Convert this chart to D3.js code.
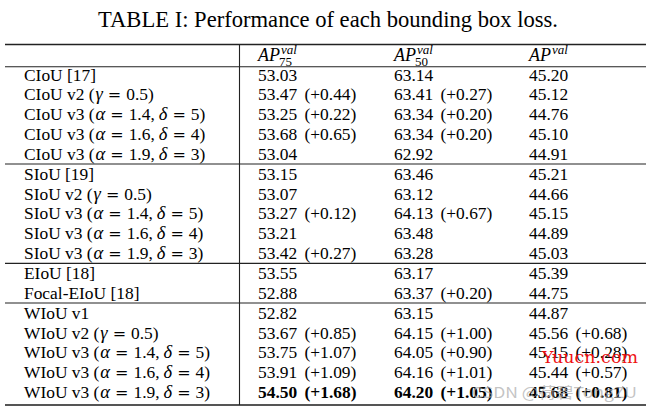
<!DOCTYPE html>
<html>
<head>
<meta charset="utf-8">
<script src="https://cdn.jsdelivr.net/npm/d3@7"></script>
<style>
  html, body { margin: 0; padding: 0; background: #fff; }
  svg { display: block; }
  text { font-family: "Liberation Serif", "Times New Roman", serif; fill: #000; }
</style>
</head>
<body>
<div id="chart"></div>
<script>
// ---------------- data ----------------
const title = "TABLE I: Performance of each bounding box loss.";
const columns = ["75", "50", ""];            // subscripts of AP^val headers
const methods = ["CIoU [17]", "CIoU v2", "CIoU v3", "CIoU v3", "CIoU v3",
                 "SIoU [19]", "SIoU v2", "SIoU v3", "SIoU v3", "SIoU v3",
                 "EIoU [18]", "Focal-EIoU [18]",
                 "WIoU v1", "WIoU v2", "WIoU v3", "WIoU v3", "WIoU v3"];
const groups = ["CIoU", "CIoU", "CIoU", "CIoU", "CIoU",
                "SIoU", "SIoU", "SIoU", "SIoU", "SIoU",
                "EIoU", "EIoU",
                "WIoU", "WIoU", "WIoU", "WIoU", "WIoU"];
const gammaParam = [null, "0.5", null, null, null, null, "0.5", null, null, null, null, null, null, "0.5", null, null, null];
const alphaParam = [null, null, "1.4", "1.6", "1.9", null, null, "1.4", "1.6", "1.9", null, null, null, null, "1.4", "1.6", "1.9"];
const deltaParam = [null, null, "5", "4", "3", null, null, "5", "4", "3", null, null, null, null, "5", "4", "3"];
const ap75     = [53.03, 53.47, 53.25, 53.68, 53.04, 53.15, 53.07, 53.27, 53.21, 53.42, 53.55, 52.88, 52.82, 53.67, 53.75, 53.91, 54.50];
const ap75Gain = [null, 0.44, 0.22, 0.65, null, null, null, 0.12, null, 0.27, null, null, null, 0.85, 1.07, 1.09, 1.68];
const ap50     = [63.14, 63.41, 63.34, 63.34, 62.92, 63.46, 63.12, 64.13, 63.48, 63.28, 63.17, 63.37, 63.15, 64.15, 64.05, 64.16, 64.20];
const ap50Gain = [null, 0.27, 0.20, 0.20, null, null, null, 0.67, null, null, null, 0.20, null, 1.00, 0.90, 1.01, 1.05];
const apAll     = [45.20, 45.12, 44.76, 45.10, 44.91, 45.21, 44.66, 45.15, 44.89, 45.03, 45.39, 44.75, 44.87, 45.56, 45.15, 45.44, 45.68];
const apAllGain = [null, null, null, null, null, null, null, null, null, null, null, null, null, 0.68, 0.28, 0.57, 0.81];
const boldRows = [16];
const watermarks = ["Yuucn.com", "CSDN @荷碧TongZU"];

// ---------------- layout ----------------
const W = 651, H = 411;
const svg = d3.select("#chart").append("svg").attr("width", W).attr("height", H);
svg.append("rect").attr("width", W).attr("height", H).attr("fill", "#fff");

const nRows = methods.length;
const y = d3.scaleLinear().domain([0, nRows - 1]).range([80.5, 398.2]);
const colKeys = ["ap75", "ap50", "ap"];
const x = d3.scaleOrdinal().domain(colKeys).range([258, 394, 529]);
const valueCols = [
  { key: "ap75", vals: ap75, gains: ap75Gain },
  { key: "ap50", vals: ap50, gains: ap50Gain },
  { key: "ap",   vals: apAll, gains: apAllGain }
];
const FS = 17.4;
const left = 5, right = 646, vx = 239.5;
const topY = 44.5, headY = 66.7, botY = 405;

// title
svg.append("text").attr("x", 328).attr("y", 27).attr("text-anchor", "middle")
  .style("font-size", "22.6px").text(title);

// rules
const rules = svg.append("g").attr("stroke", "#222").attr("fill", "none");
rules.append("line").attr("x1", left).attr("x2", right).attr("y1", topY).attr("y2", topY).attr("stroke-width", 1.3);
rules.append("line").attr("x1", left).attr("x2", right).attr("y1", headY).attr("y2", headY).attr("stroke-width", 1.1);
const sepRows = d3.range(1, nRows).filter(i => groups[i] !== groups[i - 1]);
sepRows.forEach(i => {
  const yy = (y(i) + y(i - 1)) / 2 - 5.8;
  rules.append("line").attr("x1", left).attr("x2", right).attr("y1", yy).attr("y2", yy).attr("stroke-width", 1.1);
});
rules.append("line").attr("x1", left).attr("x2", right).attr("y1", botY).attr("y2", botY)
  .attr("stroke-width", 2).attr("stroke", "#555");
rules.append("line").attr("x1", vx).attr("x2", vx).attr("y1", topY).attr("y2", botY).attr("stroke-width", 1.1);

// header
colKeys.forEach((k, ci) => {
  const t = svg.append("text").attr("x", x(k)).attr("y", 61).style("font-size", "18px").style("font-style", "italic");
  const ap = t.append("tspan").text("AP");
  const apW = ap.node().getComputedTextLength();
  svg.append("text").attr("x", x(k) + apW + 1).attr("y", 53.5)
    .style("font-size", "13px").style("font-style", "italic").text("val");
  if (columns[ci]) {
    svg.append("text").attr("x", x(k) + apW - 1).attr("y", 66)
      .style("font-size", "13px").text(columns[ci]);
  }
});

// row labels
const body = svg.append("g").style("font-size", FS + "px");
function eq(t, val) {
  t.append("tspan").attr("dx", 5).style("font-family", "'DejaVu Serif', serif").style("font-size", "16px").text("=");
  t.append("tspan").attr("dx", 5).style("font-size", FS + "px").text(val);
}
function sym(t, s, dx) {
  t.append("tspan").attr("dx", dx || 0).style("font-style", "italic").style("font-size", "18.5px").text(s);
}
methods.forEach((m, i) => {
  const t = body.append("text").attr("x", 24).attr("y", y(i));
  t.append("tspan").text(m);
  if (gammaParam[i]) {
    t.append("tspan").text(" (");
    sym(t, "γ", 1);
    eq(t, gammaParam[i]);
    t.append("tspan").text(")");
  } else if (alphaParam[i]) {
    t.append("tspan").text(" (");
    sym(t, "α", 1);
    eq(t, alphaParam[i]);
    t.append("tspan").text(",");
    sym(t, "δ", 4);
    eq(t, deltaParam[i]);
    t.append("tspan").text(")");
  }
});

// values
valueCols.forEach(c => {
  c.vals.forEach((v, i) => {
    const bold = boldRows.includes(i);
    body.append("text").attr("x", x(c.key)).attr("y", y(i))
      .style("font-weight", bold ? "bold" : "normal").text(v.toFixed(2));
    if (c.gains[i] != null) {
      body.append("text").attr("x", x(c.key) + 46.5).attr("y", y(i))
        .style("font-weight", bold ? "bold" : "normal")
        .text("(+" + c.gains[i].toFixed(2) + ")");
    }
  });
});

// watermarks
svg.append("text").attr("x", 542).attr("y", 363).attr("textLength", 96).attr("lengthAdjust", "spacingAndGlyphs")
  .style("font-family", "'DejaVu Serif', serif").style("font-size", "17px")
  .style("fill", "#ee1111").text(watermarks[0]);
svg.append("text").attr("x", 472).attr("y", 398).attr("textLength", 165).attr("lengthAdjust", "spacingAndGlyphs")
  .style("font-family", "'Noto Sans CJK SC', 'DejaVu Sans', sans-serif").style("font-size", "15px")
  .style("fill", "#aaa").style("fill-opacity", 0.7).text(watermarks[1]);
</script>
</body>
</html>
